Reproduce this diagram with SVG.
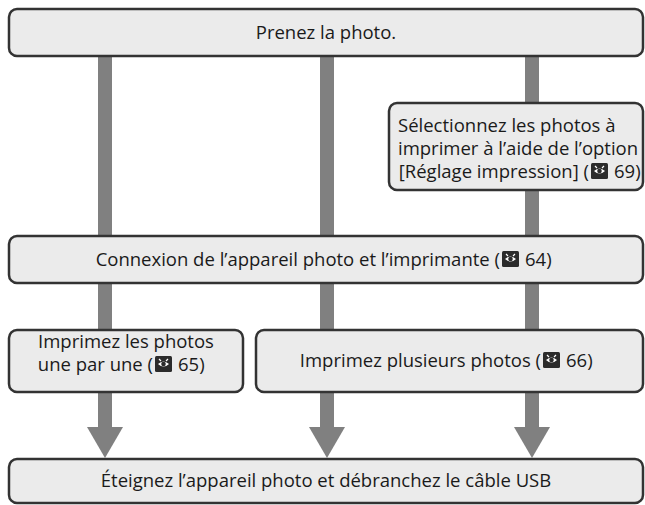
<svg xmlns="http://www.w3.org/2000/svg" xmlns:xlink="http://www.w3.org/1999/xlink" width="645" height="505" viewBox="0 0 645 505">
<style>
.box{fill:#ebebeb;stroke:#333;stroke-width:2.5}
.bar{fill:#808080}
.t{font-family:"Open Sans","Noto Sans","DejaVu Sans",sans-serif;font-size:18.5px;fill:#1a1a1a}
.m{text-anchor:middle}
.e{text-anchor:end}
</style>
<defs>
<g id="ico">
<rect x="0" y="0" width="17" height="16" rx="1.5" fill="#2b2b2b"/>
<path d="M3 8 Q8.5 3 14 8 Q8.5 13 3 8 Z" fill="#fff"/>
<circle cx="8.5" cy="8" r="2.3" fill="#2b2b2b"/>
<path d="M4 3 L6 5 M13 3 L11 5" stroke="#fff" stroke-width="1.2"/>
</g>
<polygon id="head" points="-18,0 18,0 0,31" class="bar"/>
</defs>
<g id="connectors">
<rect class="bar" x="98" y="56" width="14" height="181"/>
<rect class="bar" x="320" y="56" width="14" height="181"/>
<rect class="bar" x="525" y="56" width="14" height="48"/>
<rect class="bar" x="525" y="189" width="14" height="48"/>
<rect class="bar" x="98" y="282" width="14" height="49"/>
<rect class="bar" x="320" y="282" width="14" height="49"/>
<rect class="bar" x="525" y="282" width="14" height="49"/>
<rect class="bar" x="98" y="391" width="14" height="37"/>
<rect class="bar" x="320" y="391" width="14" height="37"/>
<rect class="bar" x="525" y="391" width="14" height="37"/>
<use xlink:href="#head" x="105" y="427"/>
<use xlink:href="#head" x="327" y="427"/>
<use xlink:href="#head" x="532" y="427"/>
</g>
<g id="n-prenez">
<rect class="box" x="9" y="9" width="634" height="47" rx="8"/>
<text class="t m" x="326" y="39">Prenez la photo.</text>
</g>
<g id="n-selection">
<rect class="box" x="389" y="103" width="254" height="87" rx="8"/>
<text class="t" x="398" y="132">Sélectionnez les photos à</text>
<text class="t" x="398" y="155">imprimer à l’aide de l’option</text>
<text class="t e" x="589" y="178">[Réglage impression] (</text>
<use xlink:href="#ico" x="591" y="163"/>
<text class="t" x="614" y="178">69)</text>
</g>
<g id="n-connexion">
<rect class="box" x="9" y="236" width="634" height="47" rx="8"/>
<text class="t e" x="500" y="266">Connexion de l’appareil photo et l’imprimante (</text>
<use xlink:href="#ico" x="502" y="251"/>
<text class="t" x="525" y="266">64)</text>
</g>
<g id="n-une">
<rect class="box" x="9" y="330" width="234" height="62" rx="8"/>
<text class="t m" x="126" y="348">Imprimez les photos</text>
<text class="t e" x="153" y="371">une par une (</text>
<use xlink:href="#ico" x="155" y="356"/>
<text class="t" x="178" y="371">65)</text>
</g>
<g id="n-plusieurs">
<rect class="box" x="256" y="330" width="387" height="62" rx="8"/>
<text class="t e" x="541" y="367">Imprimez plusieurs photos (</text>
<use xlink:href="#ico" x="543" y="352"/>
<text class="t" x="566" y="367">66)</text>
</g>
<g id="n-eteignez">
<rect class="box" x="9" y="459" width="634" height="44" rx="8"/>
<text class="t m" x="326" y="487">Éteignez l’appareil photo et débranchez le câble USB</text>
</g>
</svg>
